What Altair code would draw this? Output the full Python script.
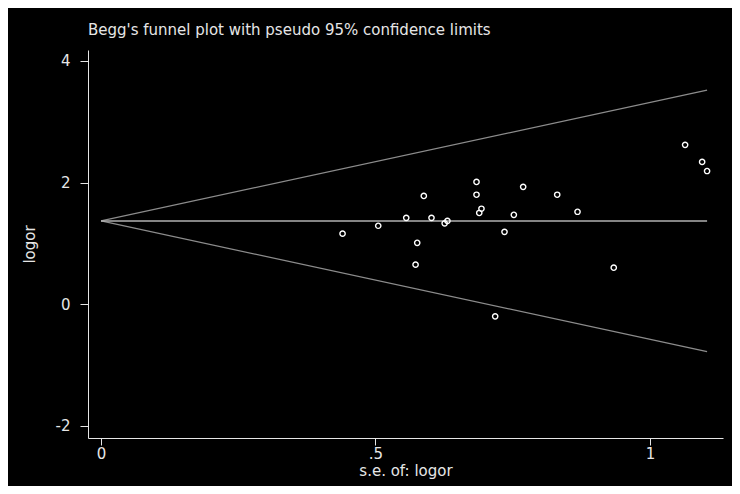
import altair as alt
import pandas as pd

# Study estimates
se = [0.440, 0.505, 0.556, 0.576, 0.573, 0.588, 0.602, 0.626, 0.631, 0.684, 0.684,
      0.689, 0.693, 0.718, 0.735, 0.752, 0.769, 0.831, 0.868, 0.934, 1.064, 1.095, 1.104]
logor = [1.16, 1.29, 1.42, 1.01, 0.65, 1.78, 1.42, 1.33, 1.37, 2.01, 1.80,
         1.50, 1.57, -0.20, 1.19, 1.47, 1.93, 1.80, 1.52, 0.60, 2.62, 2.34, 2.19]

# Pseudo 95% confidence limit lines (end points)
limit_se = [0.0, 1.104, 0.0, 1.104]
limit_y = [1.37, 3.52, 1.37, -0.78]
limit_side = ["upper", "upper", "lower", "lower"]

# Pooled estimate line
pooled_se = [0.0, 1.104]
pooled_y = [1.37, 1.37]

x_ticks = [0, 0.5, 1]
y_ticks = [-2, 0, 2, 4]

FONT = "DejaVu Sans"
FG = "#e6e6e6"

pts = pd.DataFrame({"se": se, "logor": logor})
lim = pd.DataFrame({"se": limit_se, "logor": limit_y, "side": limit_side})
pooled = pd.DataFrame({"se": pooled_se, "logor": pooled_y})

xscale = alt.Scale(domain=[-0.0237, 1.133], nice=False, zero=False)
yscale = alt.Scale(domain=[-2.2, 4.18], nice=False, zero=False)

xaxis = alt.Axis(values=x_ticks,
                 labelExpr="datum.value == 0.5 ? '.5' : toString(datum.value)",
                 grid=False, domainColor=FG, tickColor=FG, labelColor=FG, titleColor=FG,
                 tickSize=7, labelPadding=1, labelFont=FONT, labelFontSize=15,
                 titleFont=FONT, titleFontSize=15, titleFontWeight="normal",
                 titleBaseline="alphabetic", titleY=37, titleX=317.5)
yaxis = alt.Axis(values=y_ticks, labelExpr="toString(datum.value)",
                 grid=False, domainColor=FG, tickColor=FG, labelColor=FG,
                 titleColor=FG, tickSize=8, labelPadding=10, labelFont=FONT, labelFontSize=15,
                 titleFont=FONT, titleFontSize=15, titleFontWeight="normal",
                 titleBaseline="alphabetic", titleX=-53.5, titleY=194, titleAngle=270)

limits = alt.Chart(lim).mark_line(color="#8c8c8c", strokeWidth=1.3).encode(
    x=alt.X("se:Q", scale=xscale, axis=xaxis, title="s.e. of: logor"),
    y=alt.Y("logor:Q", scale=yscale, axis=yaxis, title="logor"),
    detail="side:N",
)

center = alt.Chart(pooled).mark_line(color="#b0b0b0", strokeWidth=1.5).encode(
    x=alt.X("se:Q", scale=xscale),
    y=alt.Y("logor:Q", scale=yscale),
)

points = alt.Chart(pts).mark_point(shape="circle", filled=False, size=28,
                                   strokeWidth=1.4, color="white", opacity=1).encode(
    x=alt.X("se:Q", scale=xscale),
    y=alt.Y("logor:Q", scale=yscale),
)

chart = alt.layer(limits, center, points).properties(
    width=635,
    height=388,
    autosize="none",
    padding={"left": 80, "top": 42, "right": 9, "bottom": 48},
    title=alt.Title("Begg's funnel plot with pseudo 95% confidence limits",
                    anchor="start", frame="group", font=FONT, fontSize=15,
                    fontWeight="normal", color=FG, offset=12),
).configure(background="black").configure_view(strokeWidth=0)

chart.save("out.html", embed_options={"renderer": "svg", "actions": False})
